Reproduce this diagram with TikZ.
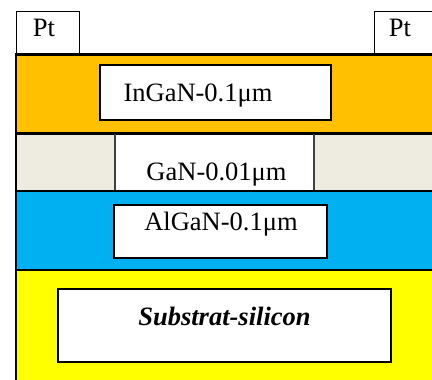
\documentclass[tikz,border=0pt]{standalone}
\usepackage{fontspec}
\setmainfont{Liberation Serif}
\definecolor{ingan}{HTML}{FFC000}
\definecolor{gan}{HTML}{EEECE1}
\definecolor{algan}{HTML}{00B0F0}
\definecolor{subst}{HTML}{FFFF00}
\tikzset{
  lbl/.style={anchor=base, inner sep=0pt, font=\fontsize{26.5}{30}\selectfont},
  ptbox/.style={draw=black, line width=1pt, fill=white, rectangle, inner sep=0pt},
  wbox/.style={draw=black, fill=white, rectangle, inner sep=0pt},
  sep/.style={draw=black, line width=3pt},
  thin/.style={draw=black, line width=2pt},
  divider/.style={draw=black!75, line width=1.5pt}
}
\begin{document}
\begin{tikzpicture}[x=1pt,y=-1pt]
\useasboundingbox (0,0) rectangle (432,380);
% layers
\fill[ingan] (16,54) rectangle (436,133);
\fill[gan] (16,133) rectangle (436,191);
\fill[white] (115,133) rectangle (314,191);
\fill[algan] (16,191) rectangle (436,270);
\fill[subst] (16,270) rectangle (436,384);
% separating lines
\draw[sep] (16,54.5) -- (436,54.5);
\draw[sep] (16,133) -- (436,133);
\draw[thin] (16,191) -- (436,191);
\draw[thin] (16,270) -- (436,270);
\draw[divider] (115,134) -- (115,190);
\draw[divider] (314,134) -- (314,190);
\draw[line width=2pt] (16,53) -- (16,384);
% Pt contacts
\node[ptbox, minimum width=63pt, minimum height=42pt] (ptl) at (47.5,32.5) {};
\node[ptbox, minimum width=64pt, minimum height=42pt] (ptr) at (406,32.5) {};
\node[lbl] (ptlt) at (44,36.5) {Pt};
\node[lbl] (ptrt) at (400,36.5) {Pt};
% boxes
\node[wbox, line width=1.5pt, minimum width=231pt, minimum height=55pt] (ingan) at (215.5,92.5) {};
\node[lbl] (ingant) at (198,101.5) {InGaN-0.1μm};
\node[lbl] (gant) at (216.5,180) {GaN-0.01μm};
\node[wbox, line width=2pt, minimum width=213pt, minimum height=53pt] (algan) at (220.5,231.5) {};
\node[lbl] (algant) at (221,230) {AlGaN-0.1μm};
\node[wbox, line width=2pt, minimum width=333pt, minimum height=73pt] (subs) at (224.5,325.5) {};
\node[lbl, font=\fontsize{26.5}{30}\selectfont\bfseries\itshape] (subst) at (224.5,325) {Substrat-silicon};
\end{tikzpicture}
\end{document}
